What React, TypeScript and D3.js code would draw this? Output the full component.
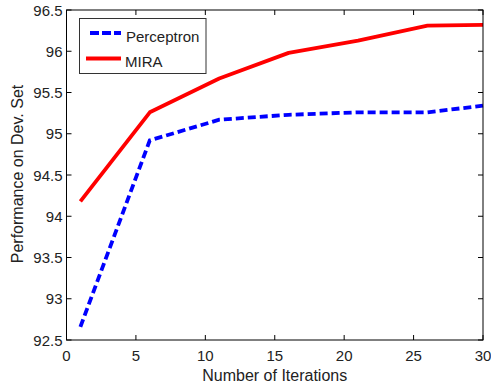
import React from "react";
import * as d3 from "d3";

const iterations = [1, 6, 11, 16, 21, 26, 30];
const perceptron = [92.66, 94.92, 95.17, 95.23, 95.26, 95.26, 95.34];
const mira = [94.18, 95.26, 95.67, 95.98, 96.13, 96.31, 96.32];
const xTicks = [0, 5, 10, 15, 20, 25, 30];
const yTicks = [92.5, 93, 93.5, 94, 94.5, 95, 95.5, 96, 96.5];
const seriesNames = ["Perceptron", "MIRA"];

const W = 491, H = 383;
const L = 66.5, R = 483, T = 10, B = 340;

export default function App() {
  const x = d3.scaleLinear().domain([0, 30]).range([L, R]);
  const y = d3.scaleLinear().domain([92.5, 96.5]).range([B, T]);
  const line = d3.line<number>().x((_, i) => x(iterations[i])).y(d => y(d));
  const font = "'Liberation Sans', Arial, sans-serif";
  const fs = 15;
  const fl = 16;
  const tl = 5;
  return (
    <svg width={W} height={H} style={{ position: "absolute", left: 0, top: 0, background: "#fff" }}>
      <rect x={0} y={0} width={W} height={H} fill="#fff" />
      <path d={line(mira)!} fill="none" stroke="#ff0000" strokeWidth={3.8} strokeLinejoin="round" />
      <path d={line(perceptron)!} fill="none" stroke="#0000ff" strokeWidth={3.8} strokeDasharray="8 4" />
      <rect x={L} y={T} width={R - L} height={B - T} fill="none" stroke="#000" strokeWidth={1} />
      {xTicks.map(t => (
        <g key={"x" + t}>
          <line x1={x(t)} x2={x(t)} y1={B} y2={B - tl} stroke="#000" />
          <line x1={x(t)} x2={x(t)} y1={T} y2={T + tl} stroke="#000" />
          <text x={x(t)} y={B + 21} textAnchor="middle" fontFamily={font} fontSize={fs} fill="#222">{t}</text>
        </g>
      ))}
      {yTicks.map(t => (
        <g key={"y" + t}>
          <line x1={L} x2={L + tl} y1={y(t)} y2={y(t)} stroke="#000" />
          <line x1={R} x2={R - tl} y1={y(t)} y2={y(t)} stroke="#000" />
          <text x={L - 4} y={y(t) + 5.5} textAnchor="end" fontFamily={font} fontSize={fs} fill="#222">{t}</text>
        </g>
      ))}
      <text x={(L + R) / 2} y={381} textAnchor="middle" fontFamily={font} fontSize={fl} fill="#222">Number of Iterations</text>
      <text transform={`translate(22.5,${(T + B) / 2 - 1}) rotate(-90)`} textAnchor="middle" fontFamily={font} fontSize={fl} fill="#222">Performance on Dev. Set</text>
      <rect x={79.5} y={18.5} width={126.5} height={55} fill="#fff" stroke="#333" strokeWidth={1} />
      <line x1={90} x2={121} y1={33} y2={33} stroke="#0000ff" strokeWidth={3.8} strokeDasharray="9 3" />
      <line x1={86} x2={121} y1={58.5} y2={58.5} stroke="#ff0000" strokeWidth={3.8} />
      <text x={126} y={41.5} fontFamily={font} fontSize={fs} fill="#222">{seriesNames[0]}</text>
      <text x={125} y={66.5} fontFamily={font} fontSize={fs} fill="#222">{seriesNames[1]}</text>
    </svg>
  );
}
